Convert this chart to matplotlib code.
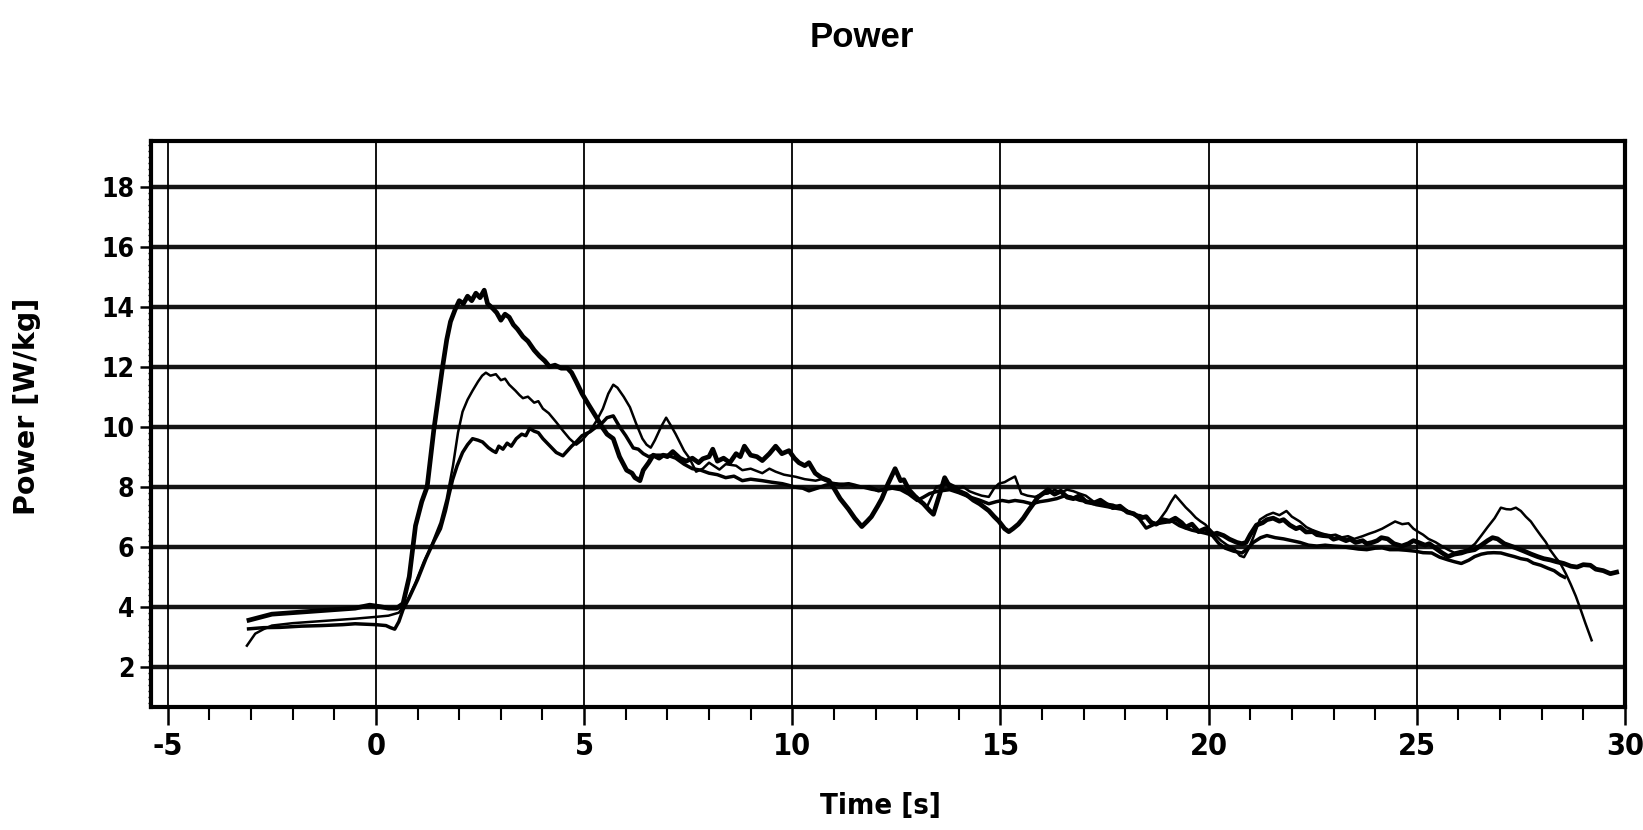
import matplotlib
matplotlib.use("Agg")
import matplotlib.pyplot as plt
from matplotlib.ticker import MultipleLocator

# ---- data: three power traces (W/kg) over time (s) ----
time_a = [-3.05, -2.5, -2.0, -1.5, -1.0, -0.5, -0.15, 0.1, 0.3, 0.5, 0.65, 0.8, 0.95, 1.1, 1.23,
          1.39, 1.5, 1.59, 1.7, 1.79, 1.9, 2.0, 2.1, 2.2, 2.3, 2.4, 2.5, 2.6, 2.68, 2.8,
          2.9, 3.0, 3.1, 3.2, 3.3, 3.4, 3.53, 3.65, 3.8, 3.93, 4.05, 4.17, 4.3, 4.45, 4.6,
          4.7, 4.81, 4.95, 5.1, 5.3, 5.45, 5.55, 5.7, 5.85, 6.02, 6.15, 6.22, 6.34, 6.42, 6.55,
          6.66, 6.8, 6.9, 7.0, 7.13, 7.3, 7.45, 7.6, 7.75, 7.85, 8.0, 8.09, 8.2, 8.35, 8.5,
          8.65, 8.75, 8.85, 9.0, 9.15, 9.28, 9.45, 9.6, 9.75, 9.92, 10.05, 10.16, 10.3, 10.4, 10.55,
          10.7, 10.88, 11.0, 11.15, 11.35, 11.5, 11.67, 11.8, 11.9, 12.05, 12.15, 12.3, 12.47, 12.6, 12.68,
          12.8, 12.9, 13.0, 13.15, 13.3, 13.39, 13.54, 13.66, 13.8, 14.0, 14.17, 14.35, 14.5, 14.72, 14.85,
          14.96, 15.1, 15.2, 15.3, 15.43, 15.55, 15.67, 15.8, 15.9, 16.05, 16.14, 16.3, 16.45, 16.6, 16.75,
          16.9, 17.05, 17.24, 17.4, 17.56, 17.7, 17.87, 18.05, 18.2, 18.35, 18.5, 18.62, 18.74, 18.9, 19.06,
          19.2, 19.35, 19.45, 19.6, 19.76, 19.92, 20.08, 20.2, 20.36, 20.5, 20.68, 20.8, 20.9, 21.0, 21.15,
          21.3, 21.4, 21.55, 21.7, 21.8, 21.95, 22.1, 22.2, 22.34, 22.5, 22.6, 22.74, 22.9, 23.0, 23.13,
          23.3, 23.4, 23.53, 23.7, 23.8, 23.93, 24.05, 24.15, 24.3, 24.45, 24.64, 24.8, 24.92, 25.04, 25.2,
          25.3, 25.44, 25.6, 25.75, 25.9, 26.07, 26.2, 26.39, 26.55, 26.7, 26.82, 26.94, 27.1, 27.26, 27.4,
          27.58, 27.75, 27.9, 28.05, 28.2, 28.35, 28.53, 28.7, 28.85, 29.0, 29.17, 29.3, 29.48, 29.65, 29.8]
power_a = [3.55, 3.75, 3.8, 3.85, 3.9, 3.95, 4.05, 4.0, 3.95, 3.95, 4.1, 5.0, 6.7, 7.5, 8.0,
           9.9, 11.0, 11.9, 12.9, 13.5, 13.9, 14.2, 14.1, 14.35, 14.2, 14.45, 14.3, 14.55, 14.1, 13.95,
           13.8, 13.55, 13.75, 13.65, 13.4, 13.25, 13.0, 12.85, 12.55, 12.35, 12.2, 12.0, 12.05, 11.95, 11.95,
           11.8, 11.5, 11.1, 10.75, 10.3, 9.95, 9.75, 9.6, 9.0, 8.55, 8.45, 8.3, 8.2, 8.55, 8.8,
           9.05, 8.95, 9.05, 9.0, 9.17, 8.95, 8.85, 8.95, 8.8, 8.93, 9.0, 9.25, 8.85, 8.95, 8.8,
           9.1, 9.0, 9.35, 9.05, 9.0, 8.87, 9.1, 9.35, 9.1, 9.2, 8.95, 8.8, 8.7, 8.8, 8.45,
           8.3, 8.2, 7.95, 7.6, 7.25, 6.95, 6.67, 6.85, 7.0, 7.35, 7.6, 8.1, 8.6, 8.2, 8.23,
           7.9, 7.75, 7.6, 7.43, 7.2, 7.08, 7.75, 8.3, 7.95, 7.85, 7.75, 7.55, 7.43, 7.2, 7.0,
           6.85, 6.6, 6.5, 6.6, 6.75, 6.95, 7.2, 7.45, 7.65, 7.8, 7.9, 7.75, 7.85, 7.65, 7.6,
           7.7, 7.5, 7.45, 7.55, 7.4, 7.3, 7.35, 7.15, 7.1, 6.95, 7.0, 6.8, 6.75, 6.9, 6.85,
           6.95, 6.8, 6.65, 6.75, 6.5, 6.6, 6.4, 6.45, 6.37, 6.25, 6.14, 6.1, 6.14, 6.4, 6.72,
           6.8, 6.9, 6.95, 6.85, 6.9, 6.72, 6.6, 6.65, 6.49, 6.5, 6.4, 6.37, 6.35, 6.25, 6.3,
           6.2, 6.25, 6.14, 6.2, 6.1, 6.14, 6.2, 6.3, 6.26, 6.1, 6.02, 6.1, 6.2, 6.14, 6.05,
           6.1, 5.96, 5.8, 5.67, 5.75, 5.79, 5.85, 5.9, 6.05, 6.2, 6.3, 6.26, 6.1, 6.02, 5.95,
           5.85, 5.75, 5.67, 5.6, 5.56, 5.5, 5.44, 5.35, 5.32, 5.4, 5.38, 5.25, 5.2, 5.1, 5.15]

time_b = [-3.1, -2.9, -2.7, -2.5, -2.0, -1.5, -1.0, -0.5, 0.0, 0.3, 0.55, 0.75, 0.95, 1.15, 1.35,
          1.55, 1.7, 1.85, 1.97, 2.08, 2.2, 2.32, 2.45, 2.55, 2.64, 2.75, 2.88, 3.0, 3.1, 3.2,
          3.35, 3.45, 3.53, 3.65, 3.8, 3.9, 4.01, 4.15, 4.33, 4.5, 4.65, 4.81, 4.95, 5.14, 5.3,
          5.45, 5.58, 5.7, 5.8, 5.95, 6.1, 6.25, 6.4, 6.5, 6.6, 6.7, 6.85, 6.97, 7.1, 7.2,
          7.29, 7.4, 7.53, 7.69, 7.85, 8.0, 8.25, 8.4, 8.65, 8.8, 9.0, 9.28, 9.45, 9.6, 9.8,
          10.08, 10.3, 10.56, 10.7, 10.88, 11.1, 11.35, 11.5, 11.67, 11.9, 12.07, 12.25, 12.47, 12.6, 12.8,
          13.0, 13.23, 13.46, 13.6, 13.78, 14.0, 14.1, 14.25, 14.4, 14.55, 14.72, 14.85, 14.96, 15.1, 15.2,
          15.35, 15.5, 15.65, 15.83, 16.0, 16.14, 16.3, 16.45, 16.6, 16.75, 16.9, 17.05, 17.24, 17.4, 17.56,
          17.7, 17.87, 18.05, 18.2, 18.35, 18.5, 18.62, 18.74, 18.85, 18.98, 19.1, 19.2, 19.3, 19.45, 19.57,
          19.69, 19.8, 19.92, 20.05, 20.16, 20.3, 20.45, 20.6, 20.75, 20.85, 20.95, 21.07, 21.23, 21.4, 21.55,
          21.7, 21.87, 22.0, 22.19, 22.35, 22.5, 22.7, 22.9, 23.05, 23.2, 23.35, 23.5, 23.7, 23.85, 24.0,
          24.17, 24.3, 24.48, 24.65, 24.8, 24.92, 25.04, 25.15, 25.28, 25.45, 25.6, 25.75, 25.9, 26.05, 26.23,
          26.4, 26.55, 26.7, 26.87, 27.02, 27.15, 27.26, 27.38, 27.5, 27.62, 27.74, 27.86, 27.98, 28.1, 28.2,
          28.33, 28.45, 28.58, 28.7, 28.82, 28.93, 29.05, 29.2]
power_b = [2.7, 3.1, 3.25, 3.37, 3.45, 3.5, 3.55, 3.6, 3.66, 3.7, 3.8, 4.2, 4.8, 5.5, 6.1,
           6.8, 7.6, 8.7, 9.8, 10.5, 10.9, 11.2, 11.5, 11.7, 11.8, 11.7, 11.75, 11.55, 11.6, 11.4,
           11.2, 11.05, 10.95, 11.0, 10.8, 10.85, 10.6, 10.45, 10.15, 9.85, 9.6, 9.4, 9.55, 9.85, 10.2,
           10.6, 11.1, 11.4, 11.3, 11.0, 10.65, 10.1, 9.6, 9.4, 9.3, 9.55, 10.0, 10.3, 10.0, 9.75,
           9.5, 9.2, 8.95, 8.5, 8.6, 8.8, 8.57, 8.75, 8.7, 8.55, 8.6, 8.45, 8.6, 8.5, 8.4,
           8.33, 8.25, 8.2, 8.25, 8.15, 8.1, 8.1, 8.0, 7.98, 7.9, 7.86, 7.95, 7.98, 8.0, 7.8,
           7.66, 7.31, 8.0, 8.05, 8.1, 7.95, 8.0, 7.85, 7.77, 7.7, 7.66, 7.95, 8.1, 8.15, 8.23,
           8.34, 7.77, 7.7, 7.66, 7.75, 7.77, 7.9, 7.8, 7.9, 7.85, 7.77, 7.7, 7.5, 7.45, 7.43,
           7.4, 7.31, 7.2, 7.08, 7.05, 6.97, 6.85, 6.74, 6.95, 7.2, 7.5, 7.71, 7.55, 7.31, 7.15,
           6.97, 6.85, 6.74, 6.55, 6.39, 6.2, 6.05, 5.95, 5.7, 5.65, 5.9, 6.3, 6.9, 7.05, 7.13,
           7.05, 7.19, 7.0, 6.84, 6.65, 6.55, 6.45, 6.37, 6.4, 6.31, 6.35, 6.26, 6.35, 6.43, 6.5,
           6.6, 6.7, 6.84, 6.75, 6.78, 6.6, 6.49, 6.4, 6.26, 6.15, 6.02, 5.9, 5.8, 5.85, 5.9,
           6.1, 6.37, 6.65, 6.95, 7.3, 7.25, 7.24, 7.3, 7.19, 7.0, 6.84, 6.6, 6.37, 6.15, 5.9,
           5.65, 5.44, 5.1, 4.74, 4.35, 3.93, 3.45, 2.88]

time_c = [-3.06, -2.7, -2.3, -1.8, -1.3, -0.8, -0.5, 0.0, 0.24, 0.35, 0.45, 0.55, 0.65, 0.8, 1.0,
          1.2, 1.4, 1.55, 1.67, 1.75, 1.84, 1.95, 2.08, 2.2, 2.32, 2.45, 2.56, 2.7, 2.8, 2.88,
          2.95, 3.05, 3.15, 3.25, 3.37, 3.5, 3.6, 3.69, 3.8, 3.9, 4.01, 4.15, 4.33, 4.49, 4.6,
          4.7, 4.81, 4.95, 5.14, 5.3, 5.45, 5.55, 5.7, 5.85, 6.0, 6.18, 6.3, 6.42, 6.55, 6.66,
          7.0, 7.2, 7.4, 7.6, 7.8, 8.0, 8.2, 8.4, 8.6, 8.8, 9.0, 9.28, 9.5, 9.76, 9.9,
          10.08, 10.25, 10.4, 10.6, 10.8, 11.0, 11.2, 11.35, 11.5, 11.67, 11.85, 12.07, 12.2, 12.4, 12.6,
          12.8, 13.0, 13.15, 13.3, 13.5, 13.78, 14.0, 14.25, 14.5, 14.72, 14.9, 15.04, 15.2, 15.35, 15.55,
          15.75, 15.95, 16.14, 16.35, 16.55, 16.7, 16.9, 17.1, 17.3, 17.5, 17.7, 17.9, 18.1, 18.3, 18.5,
          18.7, 18.9, 19.13, 19.3, 19.45, 19.6, 19.76, 19.92, 20.08, 20.25, 20.4, 20.6, 20.8, 20.95, 21.07,
          21.25, 21.4, 21.6, 21.8, 22.0, 22.2, 22.4, 22.6, 22.8, 23.0, 23.2, 23.4, 23.6, 23.8, 24.0,
          24.17, 24.35, 24.56, 24.75, 24.96, 25.15, 25.36, 25.55, 25.75, 25.9, 26.07, 26.25, 26.39, 26.55, 26.7,
          26.85, 27.02, 27.2, 27.34, 27.5, 27.66, 27.8, 27.98, 28.15, 28.3, 28.45, 28.55]
power_c = [3.26, 3.3, 3.31, 3.35, 3.37, 3.4, 3.43, 3.4, 3.37, 3.3, 3.25, 3.5, 3.9, 4.3, 4.9,
           5.6, 6.2, 6.6, 7.2, 7.7, 8.23, 8.7, 9.14, 9.4, 9.6, 9.55, 9.49, 9.3, 9.2, 9.14,
           9.35, 9.25, 9.45, 9.35, 9.6, 9.75, 9.7, 9.94, 9.85, 9.8, 9.6, 9.4, 9.14, 9.03, 9.2,
           9.35, 9.49, 9.7, 9.83, 10.0, 10.15, 10.3, 10.36, 10.0, 9.7, 9.29, 9.25, 9.1, 9.0, 9.05,
           9.05, 8.95, 8.75, 8.6, 8.55, 8.45, 8.4, 8.3, 8.35, 8.2, 8.25, 8.2, 8.15, 8.1, 8.05,
           7.98, 7.95, 7.86, 7.95, 8.05, 8.1, 8.05, 8.1, 8.05, 7.98, 8.0, 7.86, 7.9, 7.95, 7.9,
           7.75, 7.54, 7.65, 7.77, 7.85, 7.9, 7.8, 7.66, 7.55, 7.43, 7.5, 7.54, 7.5, 7.54, 7.5,
           7.43, 7.5, 7.54, 7.6, 7.7, 7.65, 7.55, 7.5, 7.4, 7.35, 7.3, 7.25, 7.15, 7.0, 6.62,
           6.75, 6.8, 6.85, 6.7, 6.62, 6.55, 6.5, 6.45, 6.39, 6.1, 5.95, 5.85, 5.79, 5.95, 6.14,
           6.3, 6.37, 6.3, 6.26, 6.2, 6.14, 6.05, 6.02, 6.05, 6.02, 6.0, 5.96, 5.92, 5.9, 5.95,
           5.96, 5.9, 5.9, 5.88, 5.85, 5.8, 5.79, 5.65, 5.56, 5.5, 5.44, 5.55, 5.67, 5.75, 5.79,
           5.8, 5.79, 5.72, 5.67, 5.6, 5.56, 5.45, 5.38, 5.28, 5.2, 5.05, 4.98]

x_ticks = [-5, 0, 5, 10, 15, 20, 25, 30]
y_ticks = [2, 4, 6, 8, 10, 12, 14, 16, 18]

title_text = "Power"
x_label = "Time [s]"
y_label = "Power [W/kg]"

# ---- styling ----
plt.rcParams["axes.unicode_minus"] = False
narrow = ["Noto Sans ExtraCondensed", "Noto Sans Condensed", "DejaVu Sans", "Liberation Sans"]


def condense(txt):
    txt.set_family(narrow)
    txt.set_stretch("condensed")
    txt.set_fontweight("bold")


fig = plt.figure(figsize=(16.43, 8.30), dpi=100, facecolor="white")
ax = fig.add_axes([0.092, 0.148, 0.897, 0.682])

ax.set_xlim(-5.4, 30)
ax.set_ylim(0.65, 19.52)

# grid: heavy horizontal rules, light vertical rules
for yv in y_ticks:
    ax.axhline(yv, color="#141414", lw=3.2, zorder=1)
for xv in x_ticks:
    ax.axvline(xv, color="black", lw=1.3, zorder=1)

# traces
ax.plot(time_c, power_c, color="black", lw=2.5, zorder=3)
ax.plot(time_b, power_b, color="black", lw=1.8, zorder=3)
ax.plot(time_a, power_a, color="black", lw=3.4, zorder=4)

# ticks
ax.set_xticks(x_ticks)
ax.set_yticks(y_ticks)
ax.xaxis.set_minor_locator(MultipleLocator(1))
ax.yaxis.set_minor_locator(MultipleLocator(0.2))
ax.tick_params(axis="x", which="major", direction="out", length=13, width=1.8,
               pad=5, labelsize=22)
ax.tick_params(axis="x", which="minor", direction="out", length=9.5, width=1.5)
ax.tick_params(axis="y", which="major", direction="out", length=8, width=1.8,
               pad=4, labelsize=19)
ax.tick_params(axis="y", which="minor", direction="out", length=2.5, width=1.0)
for lab in ax.get_xticklabels() + ax.get_yticklabels():
    condense(lab)

for sp in ax.spines.values():
    sp.set_linewidth(3.0)
    sp.set_color("black")

# labels and title
ax.set_xlabel(x_label, fontsize=21, va="center")
condense(ax.xaxis.label)
ax.xaxis.set_label_coords(0.495, -0.175)
ax.set_ylabel(y_label, fontsize=20.5, fontweight="bold", family="DejaVu Sans", va="center")
ax.yaxis.set_label_coords(-0.084, 0.532)
fig.text(0.5247, 0.955, title_text, fontsize=25, fontweight="bold",
         family=["Liberation Sans", "DejaVu Sans"], ha="center", va="center")

fig.savefig("out.png", dpi=100, facecolor="white")
